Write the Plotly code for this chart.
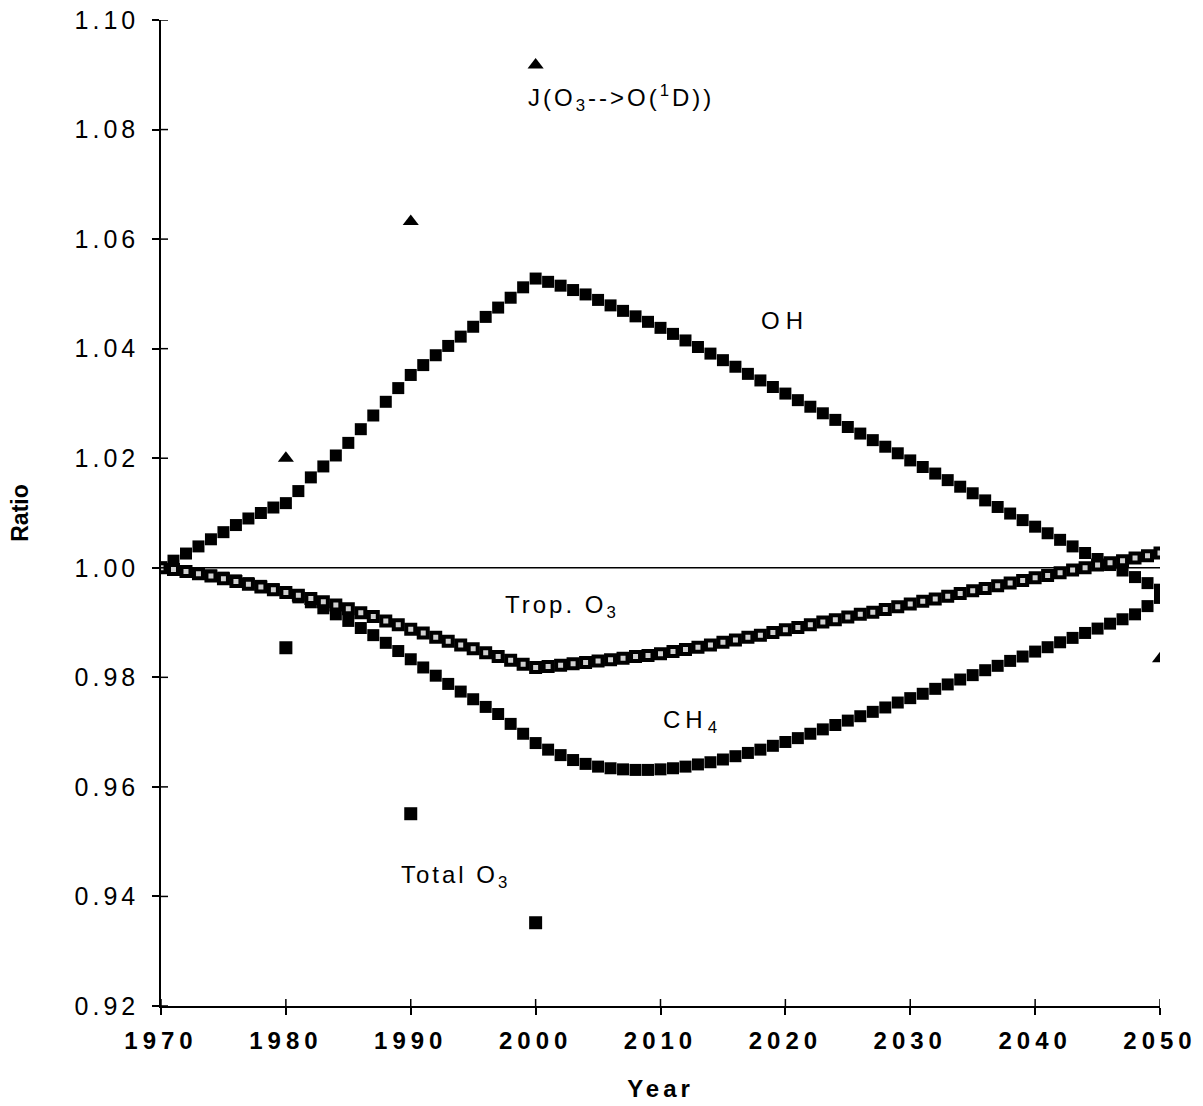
import plotly.graph_objects as go

years = list(range(1970, 2051))

oh = [1.0000, 1.0013, 1.0026, 1.0039, 1.0052, 1.0065, 1.0078, 1.0090, 1.0100, 1.0110,
      1.0118, 1.0140, 1.0165, 1.0185, 1.0205, 1.0228, 1.0253, 1.0278, 1.0303, 1.0328,
      1.0352, 1.0370, 1.0388, 1.0405, 1.0422, 1.0440, 1.0458, 1.0475, 1.0493, 1.0512,
      1.0528, 1.0522, 1.0515, 1.0507, 1.0499, 1.0489, 1.0479, 1.0469, 1.0459, 1.0449,
      1.0438, 1.0427, 1.0415, 1.0403, 1.0391, 1.0379, 1.0367, 1.0354, 1.0342, 1.0330,
      1.0318, 1.0306, 1.0294, 1.0282, 1.0270, 1.0257, 1.0245, 1.0233, 1.0221, 1.0209,
      1.0196, 1.0184, 1.0172, 1.0160, 1.0148, 1.0136, 1.0123, 1.0111, 1.0099, 1.0087,
      1.0075, 1.0063, 1.0051, 1.0039, 1.0027, 1.0016, 1.0005, 0.9995, 0.9983, 0.9972,
      0.9960]

trop_o3 = [1.0000, 0.9997, 0.9993, 0.9989, 0.9985, 0.9980, 0.9975, 0.9970, 0.9965, 0.9960,
           0.9955, 0.9950, 0.9944, 0.9938, 0.9932, 0.9925, 0.9918, 0.9911, 0.9903, 0.9896,
           0.9888, 0.9881, 0.9873, 0.9866, 0.9859, 0.9852, 0.9845, 0.9838, 0.9831, 0.9824,
           0.9818, 0.9820, 0.9822, 0.9825, 0.9827, 0.9830, 0.9832, 0.9835, 0.9838, 0.9840,
           0.9843, 0.9847, 0.9851, 0.9855, 0.9859, 0.9864, 0.9868, 0.9873, 0.9877, 0.9882,
           0.9887, 0.9891, 0.9896, 0.9901, 0.9905, 0.9910, 0.9915, 0.9919, 0.9924, 0.9929,
           0.9934, 0.9939, 0.9943, 0.9948, 0.9953, 0.9958, 0.9962, 0.9967, 0.9972, 0.9977,
           0.9982, 0.9986, 0.9991, 0.9996, 1.0000, 1.0005, 1.0009, 1.0013, 1.0018, 1.0022,
           1.0027]

ch4 = [1.0000, 0.9997, 0.9994, 0.9990, 0.9986, 0.9982, 0.9977, 0.9972, 0.9967, 0.9961,
       0.9955, 0.9946, 0.9937, 0.9926, 0.9915, 0.9903, 0.9890, 0.9877, 0.9863, 0.9848,
       0.9833, 0.9818, 0.9803, 0.9788, 0.9774, 0.9760, 0.9746, 0.9733, 0.9715, 0.9697,
       0.9680, 0.9668, 0.9658, 0.9649, 0.9642, 0.9637, 0.9634, 0.9632, 0.9631, 0.9631,
       0.9632, 0.9634, 0.9637, 0.9641, 0.9645, 0.9650, 0.9656, 0.9662, 0.9668, 0.9675,
       0.9682, 0.9689, 0.9697, 0.9705, 0.9713, 0.9721, 0.9729, 0.9737, 0.9745, 0.9754,
       0.9762, 0.9770, 0.9779, 0.9787, 0.9796, 0.9804, 0.9813, 0.9821, 0.9830, 0.9838,
       0.9847, 0.9855, 0.9864, 0.9872, 0.9881, 0.9889, 0.9898, 0.9906, 0.9915, 0.9930,
       0.9945]

j_years = [1980, 1990, 2000, 2050]
j_o1d = [1.0200, 1.0632, 1.0918, 0.9834]

tot_years = [1980, 1990, 2000]
total_o3 = [0.9854, 0.9551, 0.9352]

x_ticks = [1970, 1980, 1990, 2000, 2010, 2020, 2030, 2040, 2050]
y_ticks = [0.92, 0.94, 0.96, 0.98, 1.00, 1.02, 1.04, 1.06, 1.08, 1.10]

FONT = "Liberation Sans, Arial, sans-serif"
PLOT_W, PLOT_H = 999, 986
TICK = 7


def spaced(s, px):
    return f'<span style="letter-spacing:{px}px">{s}</span>'


fig = go.Figure()

fig.add_trace(go.Scatter(x=years, y=ch4, mode="markers", name="CH4",
                         marker=dict(symbol="square", size=12, color="black")))
fig.add_trace(go.Scatter(x=years, y=oh, mode="markers", name="OH",
                         marker=dict(symbol="square", size=12, color="black")))
fig.add_trace(go.Scatter(x=years, y=trop_o3, mode="markers", name="Trop. O3",
                         marker=dict(symbol="square", size=9, color="#d0d0d0",
                                     line=dict(color="black", width=4))))
fig.add_trace(go.Scatter(x=tot_years, y=total_o3, mode="markers", name="Total O3",
                         marker=dict(symbol="square", size=13, color="black")))
fig.add_trace(go.Scatter(x=j_years, y=j_o1d, mode="markers", name="J",
                         marker=dict(symbol="triangle-up", size=14, color="black")))

# horizontal reference line at ratio 1
fig.add_shape(type="line", xref="x", yref="y", x0=1970, x1=2050, y0=1.0, y1=1.0,
              line=dict(color="black", width=1.5), layer="below")

# inside halves of the crossing tick marks
for t in x_ticks:
    fig.add_shape(type="line", xref="x", yref="y domain",
                  x0=t, x1=t, y0=0, y1=TICK / PLOT_H, line=dict(color="black", width=1.5))
for t in y_ticks:
    fig.add_shape(type="line", xref="x domain", yref="y",
                  y0=t, y1=t, x0=0, x1=TICK / PLOT_W, line=dict(color="black", width=1.5))

ann_font = dict(family=FONT, size=24, color="black")
labels = [
    ("J(O<sub>3</sub>-->O(<sup>1</sup>D))", 1999.2, 1.0858, "left", 3),
    ("OH", 2020.0, 1.0452, "center", 6),
    ("Trop. O<sub>3</sub>", 2002.1, 0.9929, "center", 3),
    ("CH<sub>4</sub>", 2012.6, 0.9719, "center", 5),
    ("Total O<sub>3</sub>", 1993.6, 0.9436, "center", 3),
]
for txt, xv, yv, anc, sp in labels:
    fig.add_annotation(x=xv, y=yv, text=spaced(txt, sp), showarrow=False, xanchor=anc,
                       yanchor="middle", font=ann_font)

axis_common = dict(showgrid=False, zeroline=False, linecolor="black", linewidth=1.5,
                   tickcolor="black", tickwidth=1.5, ticklen=TICK, showline=True,
                   ticks="outside", automargin=False)

fig.update_layout(
    width=1203, height=1106,
    margin=dict(l=161, r=43, t=20, b=100),
    paper_bgcolor="white", plot_bgcolor="white",
    showlegend=False,
    xaxis=dict(range=[1970, 2050], tickvals=x_ticks,
               ticktext=[spaced(str(t), 5) for t in x_ticks],
               tickfont=dict(family=FONT, size=24, color="black", weight="bold"),
               ticklabelstandoff=5,
               title=dict(text=spaced("<b>Year</b>", 4),
                          font=dict(family=FONT, size=24, color="black"),
                          standoff=28),
               **axis_common),
    yaxis=dict(range=[0.92, 1.10], tickvals=y_ticks,
               ticktext=[spaced(f"{t:.2f}", 4) for t in y_ticks],
               tickfont=dict(family=FONT, size=25, color="black"),
               ticklabelstandoff=8,
               title=dict(text="<b>Ratio</b>", font=dict(family=FONT, size=23, color="black"),
                          standoff=40),
               **axis_common),
)

fig.write_html("out.html")
